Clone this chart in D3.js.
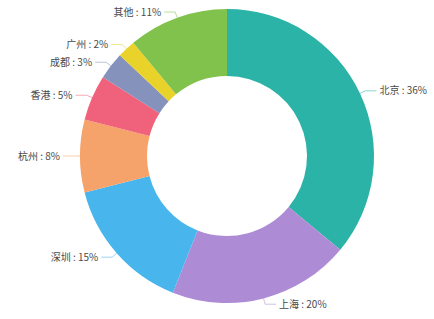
<!DOCTYPE html>
<html>
<head>
<meta charset="utf-8">
<script src="https://cdn.jsdelivr.net/npm/d3@7"></script>
<style>
  body { margin: 0; background: #fff; }
  svg { display: block; }
  text { font-family: "Noto Sans CJK SC", "Noto Sans", sans-serif; }
</style>
</head>
<body>
<svg id="pie" width="434" height="319"></svg>
<script>
// data
const cities = ["北京", "上海", "深圳", "杭州", "香港", "成都", "广州", "其他"];
const shares = [36, 20, 15, 8, 5, 3, 2, 11];
const colors = ["#2ab3a6", "#ae8bd5", "#48b5ec", "#f6a26b", "#f0617b", "#8592bb", "#e9d22a", "#80c24b"];

const data = cities.map((c, i) => ({ city: c, value: shares[i], color: colors[i] }));

const svg = d3.select("#pie");
const cx = 227, cy = 156;
const outerR = 147, innerR = 80;

const g = svg.append("g").attr("transform", "translate(" + cx + "," + cy + ")");

const pie = d3.pie()
    .value(d => d.value)
    .sort(null);

const arc = d3.arc()
    .innerRadius(innerR)
    .outerRadius(outerR);

const arcs = pie(data);

g.selectAll("path.slice")
    .data(arcs)
  .enter().append("path")
    .attr("class", "slice")
    .attr("fill", d => d.data.color)
    .attr("d", arc);

// label lines: short radial piece then horizontal piece
const len1 = 6, len2 = 11, gap = 3;

function mid(d) { return (d.startAngle + d.endAngle) / 2; }

arcs.forEach(d => {
    const a = mid(d);
    const sx = Math.sin(a), sy = -Math.cos(a);
    const p0 = [sx * outerR, sy * outerR];
    const p1 = [sx * (outerR + len1), sy * (outerR + len1)];
    const right = sx >= 0;
    const p2 = [p1[0] + (right ? len2 : -len2), p1[1]];

    g.append("polyline")
        .attr("points", [p0, p1, p2].map(p => p.join(",")).join(" "))
        .attr("fill", "none")
        .attr("stroke", d.data.color)
        .attr("stroke-opacity", 0.55)
        .attr("stroke-width", 1);

    g.append("text")
        .attr("x", p2[0] + (right ? gap : -gap))
        .attr("y", p2[1])
        .attr("dy", "0.35em")
        .attr("text-anchor", right ? "start" : "end")
        .attr("font-size", 10)
        .attr("fill", "#4a4a4a")
        .text(d.data.city + " : " + d.data.value + "%");
});
</script>
</body>
</html>
